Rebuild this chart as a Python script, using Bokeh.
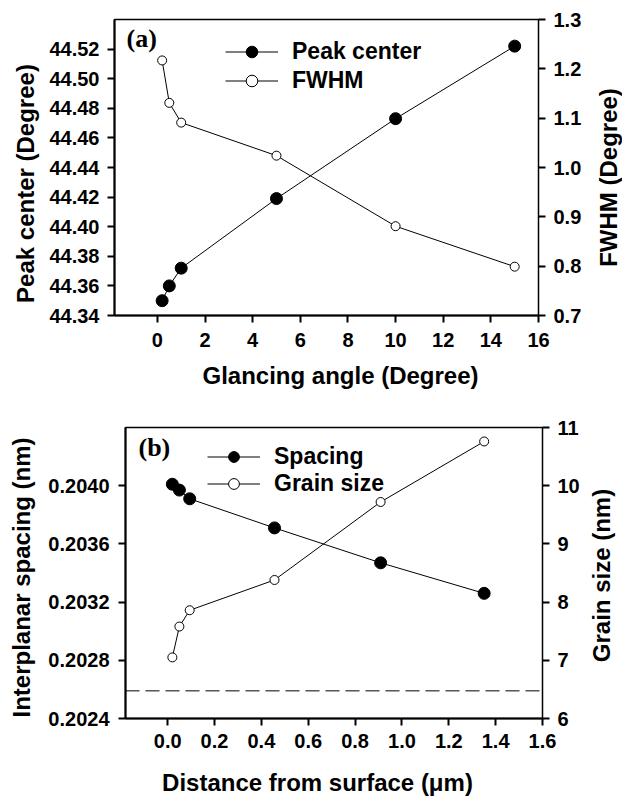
import math
from bokeh.plotting import figure
from bokeh.models import (Range1d, LinearAxis, FixedTicker, PrintfTickFormatter,
                          Legend, LegendItem, Label, Span)
from bokeh.layouts import column, row
from bokeh.embed import file_html
from bokeh.resources import INLINE

# ---------------- data: panel (a) ----------------
angle = [0.2, 0.5, 1, 5, 10, 15]
peak_center = [44.350, 44.360, 44.372, 44.419, 44.473, 44.522]
fwhm = [1.217, 1.131, 1.091, 1.024, 0.881, 0.799]
a_x_ticks = [0, 2, 4, 6, 8, 10, 12, 14, 16]
a_left_ticks = [44.34, 44.36, 44.38, 44.40, 44.42, 44.44, 44.46, 44.48, 44.50, 44.52]
a_right_ticks = [0.7, 0.8, 0.9, 1.0, 1.1, 1.2, 1.3]

# ---------------- data: panel (b) ----------------
depth = [0.020, 0.050, 0.094, 0.456, 0.909, 1.351]
spacing = [0.20401, 0.20397, 0.20391, 0.20371, 0.20347, 0.20326]
grain = [7.05, 7.58, 7.86, 8.38, 9.72, 10.76]
ref_spacing = 0.20259
b_x_ticks = [0.0, 0.2, 0.4, 0.6, 0.8, 1.0, 1.2, 1.4, 1.6]
b_left_ticks = [0.2024, 0.2028, 0.2032, 0.2036, 0.2040]
b_right_ticks = [6, 7, 8, 9, 10, 11]

SANS = "Liberation Sans"
SERIF = "Liberation Serif"
TOTAL_W = 622


def style_axis(ax, line_width=2, label_standoff=8):
    ax.major_label_text_font = SANS
    ax.major_label_text_font_style = "bold"
    ax.major_label_text_font_size = "20px"
    ax.major_label_text_color = "black"
    ax.major_tick_out = 7
    ax.major_tick_in = 0
    ax.minor_tick_out = 0
    ax.minor_tick_in = 0
    ax.major_tick_line_width = 2
    ax.major_tick_line_color = "black"
    ax.axis_line_width = line_width
    ax.axis_line_color = "black"
    ax.major_label_standoff = label_standoff


def base_fig(width, height, xr, yr, mbl, mbr, mbt, mbb):
    p = figure(width=width, height=height, x_range=xr, y_range=yr, title=None,
               output_backend="svg", toolbar_location=None,
               min_border_left=mbl, min_border_right=mbr,
               min_border_top=mbt, min_border_bottom=mbb)
    p.xgrid.visible = False
    p.ygrid.visible = False
    p.outline_line_color = "black"
    p.outline_line_width = 1.5
    p.background_fill_color = "white"
    p.border_fill_color = "white"
    return p


def text_strip(width, height, text, x, y, angle=0.0):
    """A blank figure holding one axis title (its frame is aligned with the row's plot frame)."""
    s = figure(width=width, height=height, x_range=Range1d(0, 1), y_range=Range1d(0, 1),
               title=None, output_backend="svg", toolbar_location=None,
               x_axis_location=None, y_axis_location=None,
               min_border_left=0, min_border_right=0, min_border_top=0, min_border_bottom=0)
    s.grid.visible = False
    s.outline_line_color = None
    s.background_fill_color = "white"
    s.border_fill_color = "white"
    s.add_layout(Label(x=x, y=y, x_units="screen", y_units="screen", text=text,
                       angle=angle, text_font=SANS, text_font_style="bold",
                       text_font_size="24px", text_align="center",
                       text_baseline="middle", text_color="black"))
    return s


def make_legend(items, x, y, glyph_h):
    return Legend(items=items, location=(x, y),
                  glyph_width=53, glyph_height=glyph_h, label_height=glyph_h,
                  label_standoff=14, spacing=0, padding=0, margin=0,
                  border_line_alpha=0, background_fill_alpha=0,
                  label_text_font=SANS, label_text_font_style="bold",
                  label_text_font_size="23px", label_text_color="black")


# ================= panel (a) =================
# page px: frame x 114..538, y 19..315; main fig x 44..590, y 0..357
LWA, MWA, RWA, HA = 44, 546, 32, 357
pa = base_fig(MWA, HA, Range1d(-1.8, 16), Range1d(44.34, 44.54), 70, 52, 19, 42)
pa.extra_y_ranges = {"fwhm": Range1d(0.7, 1.3)}

pa.xaxis.ticker = FixedTicker(ticks=a_x_ticks)
pa.xaxis.formatter = PrintfTickFormatter(format="%d")
style_axis(pa.xaxis[0], label_standoff=10)

pa.yaxis.ticker = FixedTicker(ticks=a_left_ticks)
pa.yaxis.formatter = PrintfTickFormatter(format="%.2f")
style_axis(pa.yaxis[0], label_standoff=8)

ra = LinearAxis(y_range_name="fwhm",
                ticker=FixedTicker(ticks=a_right_ticks),
                formatter=PrintfTickFormatter(format="%.1f"))
style_axis(ra, line_width=1, label_standoff=8)
pa.add_layout(ra, "right")

la1 = pa.line(angle, peak_center, line_color="black", line_width=1)
sa1 = pa.scatter(angle, peak_center, marker="circle", size=12,
                 fill_color="black", line_color="black")
la2 = pa.line(angle, fwhm, y_range_name="fwhm", line_color="black", line_width=1)
sa2 = pa.scatter(angle, fwhm, y_range_name="fwhm", marker="circle", size=9,
                 fill_color="white", line_color="black", line_width=1)

pa.add_layout(make_legend([LegendItem(label="Peak center", renderers=[la1, sa1]),
                           LegendItem(label="FWHM", renderers=[la2, sa2])],
                          111, 220, 29))
pa.add_layout(Label(x=12, y=277, x_units="screen", y_units="screen", text="(a)",
                    text_font=SERIF, text_font_style="bold", text_font_size="26px",
                    text_baseline="middle", text_align="left", text_color="black"))

# strip frames share the plot frame's top/bottom (19..315): y measured from 315
a_left = text_strip(LWA, HA, "Peak center (Degree)", 25, 132, math.pi / 2)
a_right = text_strip(RWA, HA, "FWHM (Degree)", 18, 138, math.pi / 2)
a_bottom = text_strip(TOTAL_W, 43, "Glancing angle (Degree)", 340, 25)

# ================= panel (b) =================
# page px: frame x 125..542, y 427..718; main fig x 40..586, y 400..758
LWB, MWB, RWB, HB = 40, 546, 36, 358
pb = base_fig(MWB, HB, Range1d(-0.18, 1.6), Range1d(0.2024, 0.2044), 85, 44, 27, 40)
pb.extra_y_ranges = {"grain": Range1d(6, 11)}

pb.xaxis.ticker = FixedTicker(ticks=b_x_ticks)
pb.xaxis.formatter = PrintfTickFormatter(format="%.1f")
style_axis(pb.xaxis[0], label_standoff=8)

pb.yaxis.ticker = FixedTicker(ticks=b_left_ticks)
pb.yaxis.formatter = PrintfTickFormatter(format="%.4f")
style_axis(pb.yaxis[0], label_standoff=9)

rb = LinearAxis(y_range_name="grain",
                ticker=FixedTicker(ticks=b_right_ticks),
                formatter=PrintfTickFormatter(format="%d"))
style_axis(rb, line_width=1, label_standoff=8)
pb.add_layout(rb, "right")

pb.add_layout(Span(location=ref_spacing, dimension="width", line_color="black",
                   line_width=1, line_dash="14 6"))

lb1 = pb.line(depth, spacing, line_color="black", line_width=1)
sb1 = pb.scatter(depth, spacing, marker="circle", size=12,
                 fill_color="black", line_color="black")
lb2 = pb.line(depth, grain, y_range_name="grain", line_color="black", line_width=1)
sb2 = pb.scatter(depth, grain, y_range_name="grain", marker="circle", size=9,
                 fill_color="white", line_color="black", line_width=1)

pb.add_layout(make_legend([LegendItem(label="Spacing", renderers=[lb1, sb1]),
                           LegendItem(label="Grain size", renderers=[lb2, sb2])],
                          82, 221, 27))
pb.add_layout(Label(x=13, y=271, x_units="screen", y_units="screen", text="(b)",
                    text_font=SERIF, text_font_style="bold", text_font_size="26px",
                    text_baseline="middle", text_align="left", text_color="black"))

# strip frames share the plot frame's top/bottom (427..718): y measured from 718
b_left = text_strip(LWB, HB, "Interplanar spacing (nm)", 21, 141, math.pi / 2)
b_right = text_strip(RWB, HB, "Grain size (nm)", 15, 143, math.pi / 2)
b_bottom = text_strip(TOTAL_W, 38, "Distance from surface (\u03bcm)", 317, 14)

layout = column(row(a_left, pa, a_right, spacing=0), a_bottom,
                row(b_left, pb, b_right, spacing=0), b_bottom, spacing=0)
open("out.html", "w").write(file_html(layout, INLINE))
